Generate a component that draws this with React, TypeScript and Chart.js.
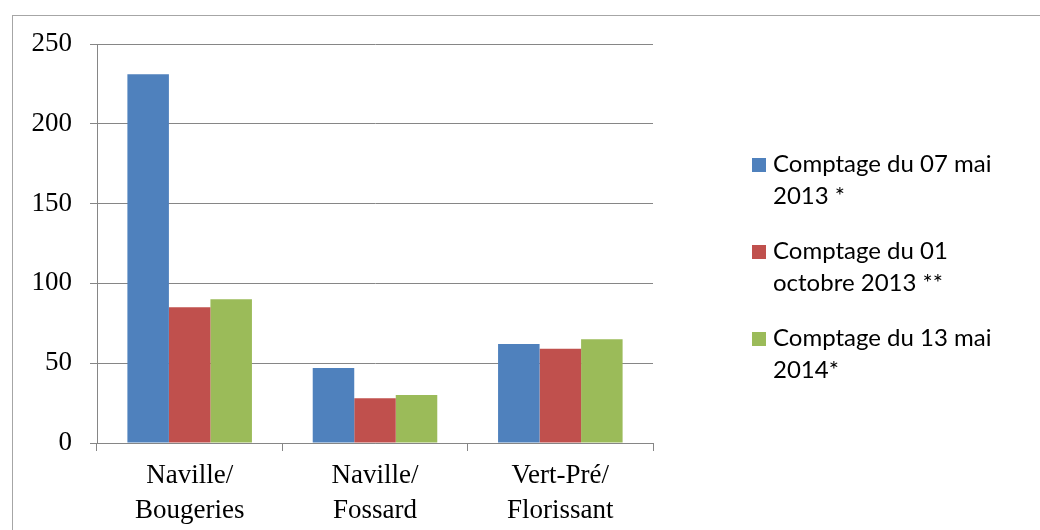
import React, { useEffect, useRef } from "react";
import { Chart, registerables } from "chart.js";

Chart.register(...registerables);

const categories: string[][] = [
  ["Naville/", "Bougeries"],
  ["Naville/", "Fossard"],
  ["Vert-Pré/", "Florissant"],
];
const seriesNames = [
  "Comptage du 07 mai 2013 *",
  "Comptage du 01 octobre 2013 **",
  "Comptage du 13 mai 2014*",
];
const mai2013 = [231, 47, 62];
const oct2013 = [85, 28, 59];
const mai2014 = [90, 30, 65];
const seriesColors = ["#4F81BD", "#C0504D", "#9BBB59"];
const yTicks = { min: 0, max: 250, step: 50 };

const W = 1040;
const H = 530;

const borderPlugin = {
  id: "outerBorder",
  beforeDraw(chart: any) {
    const ctx = chart.ctx;
    ctx.save();
    ctx.fillStyle = "#ffffff";
    ctx.fillRect(0, 0, W, H);
    ctx.strokeStyle = "#a6a6a6";
    ctx.lineWidth = 1;
    ctx.strokeRect(12.5, 15.5, W + 50, H + 50);
    ctx.restore();
  },
};

const legendPlugin = {
  id: "wrapLegend",
  afterDraw(chart: any) {
    const ctx = chart.ctx;
    ctx.save();
    ctx.font = '24px Lato';
    ctx.fillStyle = "#000000";
    ctx.textBaseline = "alphabetic";
    ctx.textAlign = "left";
    const maxW = 250;
    chart.data.datasets.forEach((ds: any, i: number) => {
      const words = String(ds.label).split(" ");
      const lines: string[] = [];
      let cur = "";
      words.forEach((w) => {
        const test = cur ? cur + " " + w : w;
        if (ctx.measureText(test).width > maxW && cur) {
          lines.push(cur);
          cur = w;
        } else cur = test;
      });
      if (cur) lines.push(cur);
      const base = 172 + 87 * i;
      ctx.fillStyle = ds.backgroundColor;
      ctx.fillRect(752, base - 14, 14, 14);
      ctx.fillStyle = "#000000";
      lines.forEach((ln, j) => ctx.fillText(ln, 773, base + 32 * j));
    });
    ctx.restore();
  },
};

export default function App() {
  const ref = useRef<HTMLCanvasElement | null>(null);
  useEffect(() => {
    document.body.style.margin = "0";
    const canvas = ref.current;
    if (!canvas) return;
    const serif = { family: "'Liberation Serif', serif", size: 27, lineHeight: 35 / 27 };
    const chart = new Chart(canvas, {
      type: "bar",
      data: {
        labels: categories,
        datasets: [mai2013, oct2013, mai2014].map((d, i) => ({
          label: seriesNames[i],
          data: d,
          backgroundColor: seriesColors[i],
          borderWidth: 0,
          categoryPercentage: 0.672,
          barPercentage: 1,
        })),
      },
      options: {
        animation: false,
        responsive: false,
        devicePixelRatio: 1,
        layout: { padding: { left: 0, top: 44, right: 387, bottom: 0 } },
        plugins: { legend: { display: false }, tooltip: { enabled: false } },
        scales: {
          x: {
            grid: { offset: true, drawOnChartArea: false, tickLength: 8, color: "#868686" },
            border: { display: true, color: "#868686" },
            ticks: { font: serif, color: "#000000", padding: 7, maxRotation: 0 },
            afterFit: (s: any) => { s.height = 87; },
          },
          y: {
            min: yTicks.min,
            max: yTicks.max,
            grid: { tickLength: 7, color: "#868686" },
            border: { display: true, color: "#868686" },
            ticks: { stepSize: yTicks.step, font: serif, color: "#000000", padding: 18 },
            afterFit: (s: any) => { s.width = 97; },
          },
        },
      },
      plugins: [borderPlugin, legendPlugin],
    });
    return () => chart.destroy();
  }, []);
  return <canvas ref={ref} width={W} height={H} style={{ display: "block", width: W, height: H }} />;
}
